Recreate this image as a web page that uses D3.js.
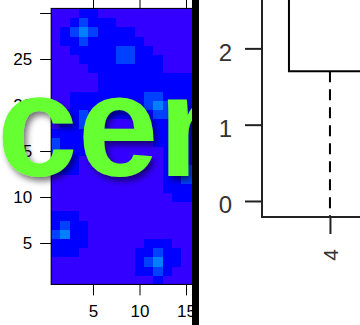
<!DOCTYPE html>
<html lang="en">
<head>
<meta charset="UTF-8" />
<title>Heatmap and boxplot</title>
<script src="https://d3js.org/d3.v7.min.js"></script>
<style>
  body { margin: 0; background: #fff; }
  svg { display: block; font-family: "Liberation Sans", Arial, sans-serif; }
</style>
</head>
<body>
<div id="chart"></div>
<script>
// --- heatmap levels, one row per y (1 at the bottom up to 30), columns x = 1..16 ---
const heatRows = [
  [0,0,0,0,0,0,0,0,0,0,0,1,0,0,0,0],
  [0,0,0,0,0,0,0,0,0,1,1,2,1,0,0,0],
  [0,0,0,0,0,0,0,0,0,1,2,3,1,1,0,0],
  [1,1,1,0,0,0,0,0,0,1,1,2,1,1,0,0],
  [1,1,1,1,0,0,0,0,0,0,1,1,1,0,0,0],
  [2,3,1,1,0,0,0,0,0,0,0,0,0,0,0,0],
  [1,2,1,1,0,0,0,0,0,0,0,0,0,0,0,0],
  [1,1,1,0,0,0,0,0,0,0,0,0,0,0,0,0],
  [0,0,0,0,0,0,0,0,0,0,0,0,0,0,0,0],
  [0,0,0,0,0,0,0,0,0,0,0,0,0,1,1,1],
  [0,0,0,0,0,0,0,0,0,0,0,0,1,1,1,1],
  [0,0,0,0,0,0,0,0,0,0,0,0,1,1,2,2],
  [1,1,1,0,0,0,0,0,0,0,0,0,1,1,2,2],
  [1,1,1,0,0,0,0,0,0,0,0,0,1,1,1,1],
  [2,1,1,1,0,0,0,0,0,0,0,0,1,1,1,1],
  [2,1,1,1,0,0,0,0,0,0,0,1,1,1,1,1],
  [1,1,1,1,1,0,0,0,0,0,1,1,1,1,1,1],
  [0,1,1,2,1,1,0,0,0,1,1,1,1,1,1,1],
  [0,1,1,2,1,1,1,1,1,1,1,2,2,1,1,1],
  [0,0,1,1,1,1,1,1,1,1,2,3,2,1,1,1],
  [0,0,1,1,1,1,1,1,1,1,2,2,1,1,1,1],
  [0,0,0,0,0,1,1,1,1,1,1,1,1,1,1,1],
  [0,0,0,0,0,1,1,1,1,1,1,1,1,1,1,1],
  [0,0,0,0,1,1,1,1,1,1,1,1,0,0,0,0],
  [0,0,0,1,1,1,1,2,2,1,1,1,0,0,0,0],
  [0,0,1,1,1,1,1,2,2,1,1,0,0,0,0,0],
  [0,1,1,2,1,1,1,1,1,1,0,0,0,0,0,0],
  [0,1,2,3,2,1,1,1,1,0,0,0,0,0,0,0],
  [0,0,1,2,1,1,1,0,0,0,0,0,0,0,0,0],
  [0,0,0,1,1,0,0,0,0,0,0,0,0,0,0,0]
];
const heatColors = ["#3300FF", "#0000FF", "#0040FF", "#0080FF"];
const heatXTicks = [5, 10, 15];
const heatYTicks = [5, 10, 15, 20, 25, 30];
const heatYLabels = ["5", "10", "15", "20", "25", ""];
const overlayText = "cen";

// --- boxplot (only the first group is in view) ---
const boxGroups = ["4"];
const boxLow = [-0.6];
const boxQ1 = [1.7];
const boxMedian = [2.9];
const boxQ3 = [3.4];
const boxHigh = [4.2];
const boxYTicks = [0, 1, 2];

const W = 360, H = 325;
const svg = d3.select("#chart").append("svg")
  .attr("width", W).attr("height", H);

const defs = svg.append("defs");
defs.append("clipPath").attr("id", "leftClip")
  .append("rect").attr("x", 0).attr("y", 0).attr("width", 192).attr("height", H);
defs.append("clipPath").attr("id", "plotClip")
  .append("rect").attr("x", 262).attr("y", 0).attr("width", W - 262).attr("height", 217);
defs.append("filter").attr("id", "shadow")
  .attr("x", "-20%").attr("y", "-20%").attr("width", "150%").attr("height", "150%")
  .append("feDropShadow")
  .attr("dx", 3).attr("dy", 4).attr("stdDeviation", 3)
  .attr("flood-color", "#000").attr("flood-opacity", 0.55);

// ---------- left panel: heatmap ----------
const left = svg.append("g").attr("clip-path", "url(#leftClip)");

const hx = d3.scaleLinear().domain([0, 16]).range([46.5, 46.5 + 16 * 9.3]);
const hy = d3.scaleLinear().domain([0, 30]).range([289, 13]);

const cells = [];
heatRows.forEach((row, i) => row.forEach((v, j) => cells.push({ x: j + 1, y: i + 1, v })));

left.append("g").attr("shape-rendering", "crispEdges")
  .selectAll("rect").data(cells).join("rect")
  .attr("x", d => hx(d.x - 0.5))
  .attr("y", d => hy(d.y + 0.5))
  .attr("width", d => hx(d.x + 0.5) - hx(d.x - 0.5) + 0.6)
  .attr("height", d => hy(d.y - 0.5) - hy(d.y + 0.5) + 0.6)
  .attr("fill", d => heatColors[d.v]);

// box round the image
left.append("rect")
  .attr("x", hx(0.5)).attr("y", hy(30.5))
  .attr("width", hx(heatRows[0].length + 0.5) - hx(0.5))
  .attr("height", hy(0.5) - hy(30.5))
  .attr("fill", "none").attr("stroke", "#000").attr("stroke-width", 1);

const ax = left.append("g");

ax.append("g")
  .attr("transform", `translate(0,${hy(0.5)})`)
  .call(d3.axisBottom(hx).tickValues(heatXTicks).tickSize(11).tickPadding(10))
  .call(g => g.select(".domain").remove());

ax.append("g")
  .attr("transform", `translate(0,${hy(30.5)})`)
  .call(d3.axisTop(hx).tickValues(heatXTicks).tickSize(9).tickFormat(""))
  .call(g => g.select(".domain").remove());

ax.append("g")
  .attr("transform", `translate(${hx(0.5)},0)`)
  .call(d3.axisLeft(hy).tickValues(heatYTicks).tickSize(11).tickPadding(8)
    .tickFormat((d, i) => heatYLabels[i]))
  .call(g => g.select(".domain").remove());

ax.selectAll("text").attr("font-size", 17)
  .attr("font-family", "Liberation Sans, Arial, sans-serif").attr("fill", "#000");
ax.selectAll("line").attr("stroke", "#000");

// green overlay word with its drop shadow
left.append("text")
  .attr("x", -3).attr("y", 176)
  .attr("font-size", 145)
  .attr("font-weight", "bold")
  .attr("fill", "#66FF33")
  .attr("filter", "url(#shadow)")
  .text(overlayText);

// black separator
svg.append("rect").attr("x", 192).attr("y", 0).attr("width", 7).attr("height", H).attr("fill", "#000");

// ---------- right panel: boxplot ----------
const bx = d3.scaleLinear().domain([0.337, 1.5]).range([262, 262 + 1.163 * 102.5]);
const by = d3.scaleLinear().domain([-0.21, 2.634]).range([217, 0]);

const right = svg.append("g");
const plot = right.append("g").attr("clip-path", "url(#plotClip)");

boxGroups.forEach((g, i) => {
  const c = i + 1, hw = 0.4;
  plot.append("line")
    .attr("x1", bx(c)).attr("x2", bx(c))
    .attr("y1", by(boxQ1[i])).attr("y2", by(boxLow[i]))
    .attr("stroke", "#000").attr("stroke-width", 2).attr("stroke-dasharray", "11,7");
  plot.append("line")
    .attr("x1", bx(c)).attr("x2", bx(c))
    .attr("y1", by(boxQ3[i])).attr("y2", by(boxHigh[i]))
    .attr("stroke", "#000").attr("stroke-width", 2).attr("stroke-dasharray", "11,7");
  plot.append("rect")
    .attr("x", bx(c - hw)).attr("y", by(boxQ3[i]))
    .attr("width", bx(c + hw) - bx(c - hw))
    .attr("height", by(boxQ1[i]) - by(boxQ3[i]))
    .attr("fill", "none").attr("stroke", "#000").attr("stroke-width", 2);
  plot.append("line")
    .attr("x1", bx(c - hw)).attr("x2", bx(c + hw))
    .attr("y1", by(boxMedian[i])).attr("y2", by(boxMedian[i]))
    .attr("stroke", "#000").attr("stroke-width", 4);
});

// frame: left and bottom edges are the ones in view
right.append("path")
  .attr("d", `M${bx(0.337)},-10V${by(-0.21)}H${W + 10}`)
  .attr("fill", "none").attr("stroke", "#222").attr("stroke-width", 2);

const yAx = right.append("g")
  .attr("transform", `translate(${bx(0.337)},0)`)
  .call(d3.axisLeft(by).tickValues(boxYTicks).tickSize(17).tickPadding(13).tickFormat(d3.format("d")))
  .call(g => g.select(".domain").remove());
yAx.selectAll("text").attr("font-size", 24).attr("dy", "0.5em").attr("fill", "#333")
  .attr("font-family", "Liberation Sans, Arial, sans-serif");
yAx.selectAll("line").attr("stroke", "#222").attr("stroke-width", 2);

const xAx = right.append("g")
  .attr("transform", `translate(0,${by(-0.21)})`)
  .call(d3.axisBottom(bx).tickValues(boxGroups.map((g, i) => i + 1)).tickSize(17)
    .tickFormat((d, i) => boxGroups[i]))
  .call(g => g.select(".domain").remove());
xAx.selectAll("line").attr("stroke", "#222").attr("stroke-width", 2);
xAx.selectAll("text")
  .attr("font-size", 21).attr("fill", "#333")
  .attr("font-family", "Liberation Sans, Arial, sans-serif")
  .attr("text-anchor", "end")
  .attr("transform", "translate(8,32) rotate(-90)")
  .attr("x", 0).attr("y", 0).attr("dy", 0);
</script>
</body>
</html>
